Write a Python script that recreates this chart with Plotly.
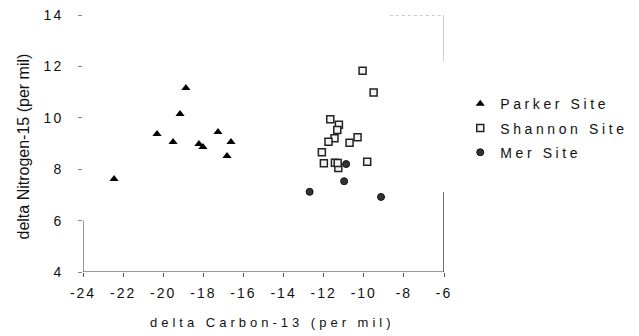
import plotly.graph_objects as go

# Data
parker_x = [-22.45, -20.31, -19.51, -19.16, -18.87, -18.22, -18.02, -17.27, -16.62, -16.82]
parker_y = [7.62, 9.37, 9.06, 10.15, 11.16, 8.98, 8.86, 9.45, 9.06, 8.51]

shannon_x = [-10.06, -9.51, -11.67, -11.24, -11.32, -11.46, -11.76, -10.31, -10.71, -12.09, -11.99, -11.44, -11.27, -9.83, -11.30]
shannon_y = [11.83, 10.98, 9.94, 9.73, 9.53, 9.20, 9.07, 9.24, 9.03, 8.66, 8.23, 8.25, 8.05, 8.29, 8.24]

mer_x = [-10.88, -10.98, -12.70, -9.14]
mer_y = [8.20, 7.53, 7.12, 6.92]

x_ticks = [-24, -22, -20, -18, -16, -14, -12, -10, -8, -6]
y_ticks = [4, 6, 8, 10, 12, 14]

FONT = "Liberation Sans, Arial, sans-serif"


def sp(text, px):
    return '<span style="letter-spacing:%spx">%s</span>' % (px, text)


fig = go.Figure()
fig.add_trace(go.Scatter(x=parker_x, y=parker_y, mode="markers", name=sp("Parker Site", 3.6),
                         legendgroup="a",
                         marker=dict(symbol="triangle-up", size=8, color="black")))
fig.add_trace(go.Scatter(x=shannon_x, y=shannon_y, mode="markers", name=sp("Shannon Site", 3.6),
                         legendgroup="b",
                         marker=dict(symbol="square", size=7, color="#f4f4f4",
                                     line=dict(color="#222", width=1.5))))
fig.add_trace(go.Scatter(x=mer_x, y=mer_y, mode="markers", name=sp("Mer Site", 3.6),
                         legendgroup="c",
                         marker=dict(symbol="circle", size=7, color="#333",
                                     line=dict(color="#111", width=1))))

# partial frame lines, as in the scanned reference
fig.add_shape(type="line", xref="x", yref="y", x0=-24, x1=-24, y0=4, y1=6,
              line=dict(color="#333", width=1))
fig.add_shape(type="line", xref="x", yref="y", x0=-24, x1=-6, y0=4, y1=4,
              line=dict(color="#333", width=1))
fig.add_shape(type="line", xref="x", yref="y", x0=-6, x1=-6, y0=4, y1=7.1,
              line=dict(color="#444", width=1.5))
fig.add_shape(type="line", xref="x", yref="y", x0=-6, x1=-6, y0=12.2, y1=14,
              line=dict(color="#999", width=1))
fig.add_shape(type="line", xref="x", yref="y", x0=-8.7, x1=-6, y0=14, y1=14,
              line=dict(color="#999", width=1, dash="dot"))

fig.add_annotation(xref="paper", yref="paper", x=0.526, y=-0.195, yanchor="middle",
                   text=sp("delta Carbon-13 (per mil)", 4), showarrow=False,
                   font=dict(size=13, color="#111"))
fig.add_annotation(xref="paper", yref="paper", x=-0.165, y=0.49, xanchor="center",
                   yanchor="middle", textangle=-90,
                   text="delta Nitrogen-15 (per mil)", showarrow=False,
                   font=dict(size=16, color="#111"))

fig.update_layout(
    width=639, height=336,
    margin=dict(l=83, r=195, t=15, b=64, autoexpand=False),
    plot_bgcolor="white", paper_bgcolor="white",
    font=dict(family=FONT, size=14, color="#111"),
    showlegend=True,
    legend=dict(x=1.045, y=0.715, xanchor="left", yanchor="top",
                font=dict(size=14, color="#111"), tracegroupgap=3,
                itemwidth=30, bgcolor="rgba(0,0,0,0)"),
    xaxis=dict(range=[-24, -6], tickvals=x_ticks,
               ticktext=[sp(v, 2) for v in x_ticks],
               showgrid=False, zeroline=False, showline=False, automargin=False,
               ticks="outside", ticklen=4, tickcolor="#555",
               ticklabelstandoff=4,
               tickfont=dict(size=14)),
    yaxis=dict(range=[4, 14], tickvals=y_ticks,
               ticktext=[sp(v, 2) for v in y_ticks],
               showgrid=False, zeroline=False, showline=False, automargin=False,
               ticks="outside", ticklen=4, tickcolor="#888",
               ticklabelstandoff=12,
               tickfont=dict(size=14)),
)

fig.write_html("out.html",
               config={"displayModeBar": False},
               post_script="document.body.style.margin='0';document.body.style.padding='0';")
